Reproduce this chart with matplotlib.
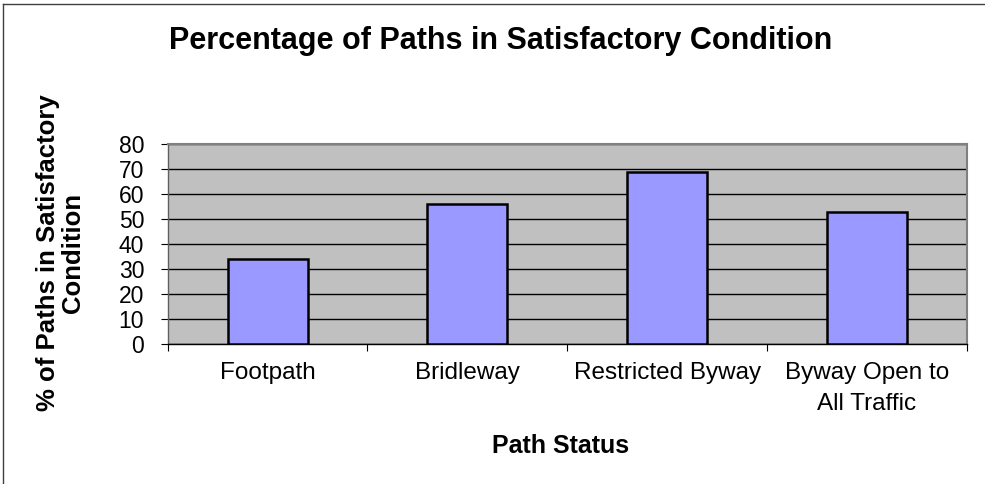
import matplotlib
matplotlib.use('Agg')
import matplotlib.pyplot as plt
from matplotlib.lines import Line2D
import numpy as np

# data
path_types = ['Footpath', 'Bridleway', 'Restricted Byway', 'Byway Open to\nAll Traffic']
pct_satisfactory = [34, 56, 69, 53]
y_ticks = [0, 10, 20, 30, 40, 50, 60, 70, 80]

plt.rcParams['font.family'] = ['Liberation Sans', 'DejaVu Sans']

fig = plt.figure(figsize=(9.85, 4.84), dpi=100)
ax = fig.add_axes([0.1703, 0.2886, 0.8111, 0.4132])

x = np.arange(len(path_types))
ax.set_facecolor('#C0C0C0')
ax.bar(x, pct_satisfactory, width=0.4, color='#9999FF', edgecolor='black', linewidth=1.8, zorder=3)

ax.set_xlim(-0.5, len(path_types) - 0.5)
ax.set_ylim(0, 80)
ax.set_yticks(y_ticks)
ax.set_yticklabels([str(v) for v in y_ticks], fontsize=16.5)
ax.yaxis.grid(True, color='black', linewidth=1.0, zorder=1)
ax.set_axisbelow(True)

# category labels in the middle, ticks on the boundaries
ax.set_xticks(x)
ax.set_xticklabels(path_types, fontsize=17.5, linespacing=1.5)
ax.tick_params(axis='x', which='major', length=0, pad=13)
ax.set_xticks(np.arange(-0.5, len(path_types)), minor=True)
ax.tick_params(axis='x', which='minor', length=5, width=0.8, direction='out')
ax.tick_params(axis='y', length=5, width=0.8, direction='out', pad=12)

for side in ['top', 'right']:
    ax.spines[side].set_color('#808080')
    ax.spines[side].set_linewidth(1.5)
ax.spines['left'].set_color('#606060')
ax.spines['bottom'].set_color('black')
ax.spines['left'].set_linewidth(1.0)
ax.spines['bottom'].set_linewidth(1.0)

fig.text(0.508, 1 - 49 / 484, 'Percentage of Paths in Satisfactory Condition',
         fontsize=22, fontweight='bold', ha='center', va='baseline')
fig.text(0.5695, 1 - 453 / 484, 'Path Status', fontsize=18, fontweight='bold',
         ha='center', va='baseline')
fig.text(0.061, 1 - 253 / 484, '% of Paths in Satisfactory\nCondition', fontsize=18.5,
         fontweight='bold', rotation=90, ha='center', va='center', multialignment='center',
         linespacing=1.05)

# chart frame (only left and top edges show in the crop)
fig.add_artist(Line2D([3 / 985, 3 / 985], [0, 1 - 4 / 484], transform=fig.transFigure,
                      color='#404040', linewidth=1.0))
fig.add_artist(Line2D([3 / 985, 1], [1 - 4 / 484, 1 - 4 / 484], transform=fig.transFigure,
                      color='#404040', linewidth=1.0))

fig.savefig('out.png', dpi=100)
